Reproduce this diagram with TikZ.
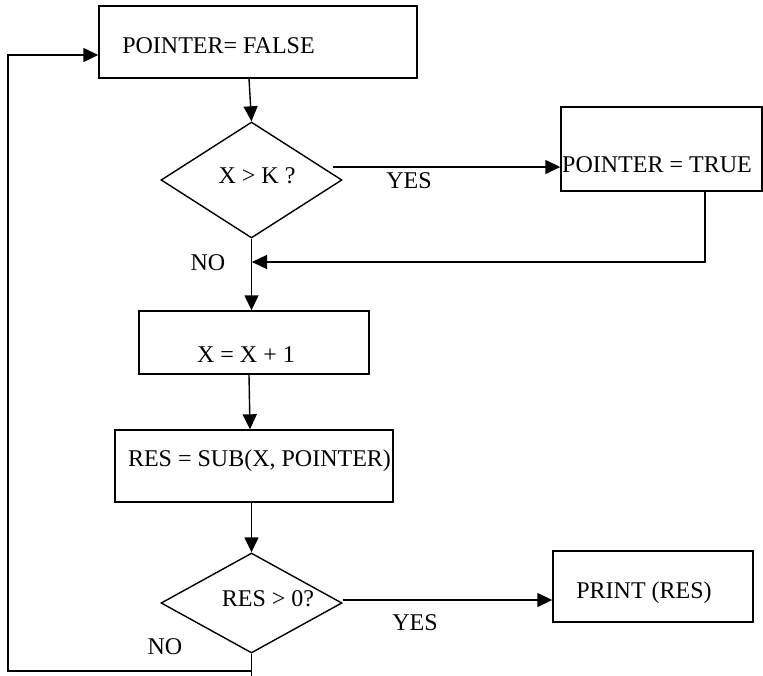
\documentclass[tikz,border=0pt]{standalone}
\usepackage{fontspec}
\setmainfont{Liberation Serif}
\usetikzlibrary{arrows.meta,shapes.geometric,calc}
\tikzset{
  box/.style={draw=black,line width=1.4pt,rectangle,inner sep=0pt},
  dia/.style={draw=black,line width=1.4pt,diamond,inner sep=0pt},
  txt/.style={anchor=base,inner sep=0pt,font=\fontsize{24}{28}\selectfont},
  conn/.style={line width=1.4pt},
  arr/.style={line width=1.4pt,-{Triangle[length=15pt,width=14pt]}}
}
\begin{document}
\begin{tikzpicture}[x=1pt,y=-1pt]
\useasboundingbox (0,0) rectangle (763,675);
% shapes
\node[box,minimum width=318pt,minimum height=72pt] (pf) at (258,42) {};
\node[dia,minimum width=181pt,minimum height=116pt] (d1) at (251.5,180) {};
\node[box,minimum width=201pt,minimum height=84pt] (pt) at (661.5,149) {};
\node[box,minimum width=230pt,minimum height=63pt] (xx) at (254,342.5) {};
\node[box,minimum width=278pt,minimum height=72pt] (res) at (254,466) {};
\node[dia,minimum width=181pt,minimum height=100pt] (d2) at (251.5,603) {};
\node[box,minimum width=200pt,minimum height=71pt] (pr) at (653,586.5) {};
% texts
\node[txt] (tpf) at (218.5,53) {POINTER= FALSE};
\node[txt] (td1) at (257,183) {X > K ?};
\node[txt] (tpt) at (657,172) {POINTER = TRUE};
\node[txt] (txx) at (246,362.5) {X = X + 1};
\node[txt] (tres) at (259.5,466) {RES = SUB(X, POINTER)};
\node[txt] (td2) at (268,606) {RES > 0?};
\node[txt] (tpr) at (644,598) {PRINT (RES)};
\node[txt] (yes1) at (409,188) {YES};
\node[txt] (no1) at (208,270) {NO};
\node[txt] (yes2) at (415,630) {YES};
\node[txt] (no2) at (165,654) {NO};
% helper coordinates
\coordinate (y1) at (333,167);
\coordinate (m1) at (251,262);
\coordinate (lb) at (251,671);
\coordinate (ll) at (8,671);
\coordinate (lt) at (8,55);
% connectors
\draw[arr] (pf.south -| 249,0) -- (d1.north);
\draw[arr] (y1) -- (y1 -| pt.west);
\draw[conn] ([xshift=43.5pt]pt.south) |- ([xshift=2pt]m1);
\draw[arr] ([xshift=43.5pt]pt.south |- m1) -- ([xshift=1pt]m1);
\draw[arr] (d1.south) -- (d1.south |- xx.north);
\draw[arr] (xx.south -| 249,0) -- (res.north -| 250,0);
\draw[arr] (res.south -| d2.north) -- (d2.north);
\draw[arr] ($(d2.east)+(0,-3)$) -- ($(d2.east -| pr.west)+(0,-3)$);
\draw[conn] (d2.south) -- ++(0,22);
\draw[arr] (lb) -- (ll) -- (lt) -- (lt -| pf.west);
\end{tikzpicture}
\end{document}
